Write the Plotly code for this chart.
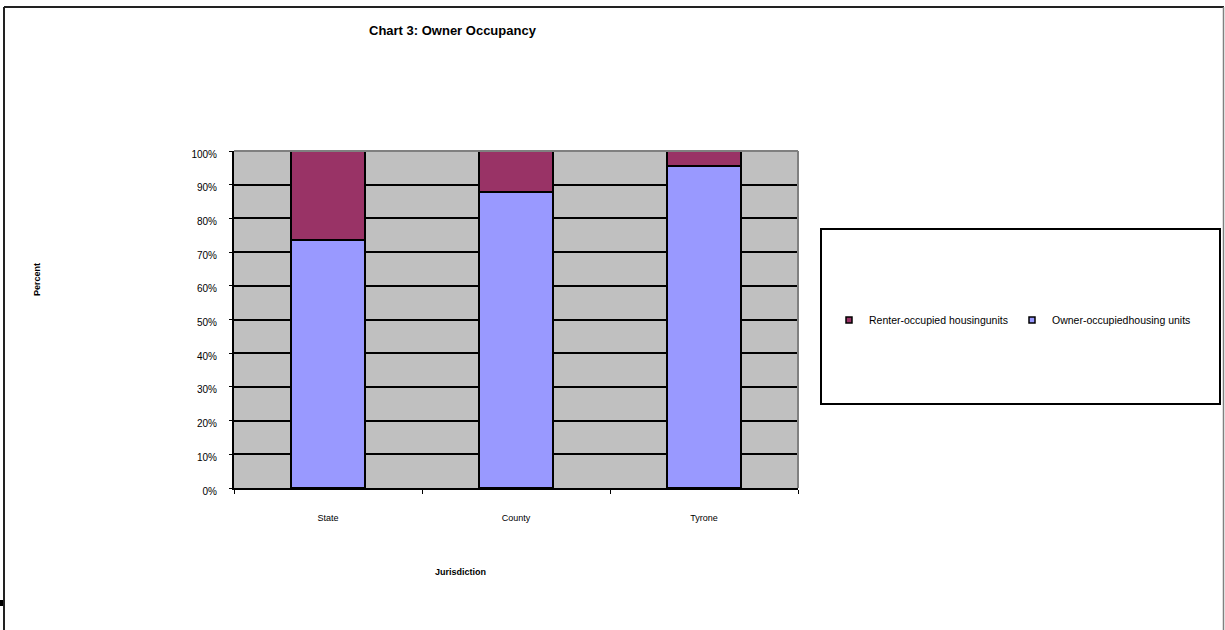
import plotly.graph_objects as go

# Housing tenure share by jurisdiction (percent of occupied units)
jurisdictions = ["State", "County", "Tyrone"]
owner_pct = [73.6, 87.8, 95.5]
renter_pct = [26.4, 12.2, 4.5]
y_ticks = [0, 10, 20, 30, 40, 50, 60, 70, 80, 90, 100]
y_tick_labels = ["0%", "10%", "20%", "30%", "40%", "50%", "60%", "70%", "80%", "90%", "100%"]

RENTER_COLOR = "#993366"
OWNER_COLOR = "#9999FF"
FONT = "Liberation Sans, Arial, sans-serif"
W, H = 1225, 630
L, R, T, B = 234, 798, 151, 488  # plot area in pixels


def px_x(px):
    return (px - L) / (R - L)


def px_y(py):
    return (B - py) / (B - T)


fig = go.Figure()
fig.add_trace(go.Bar(
    x=jurisdictions, y=owner_pct, name="Owner-occupiedhousing units",
    marker=dict(color=OWNER_COLOR, line=dict(color="black", width=1.5)),
    showlegend=False,
))
fig.add_trace(go.Bar(
    x=jurisdictions, y=renter_pct, name="Renter-occupied housingunits",
    marker=dict(color=RENTER_COLOR, line=dict(color="black", width=1.5)),
    showlegend=False,
))

# Small square legend keys
fig.add_trace(go.Scatter(
    x=[None], y=[None], mode="markers", name="Owner-occupiedhousing units",
    marker=dict(symbol="square", size=6, color=OWNER_COLOR,
                line=dict(color="black", width=1.5)),
))
fig.add_trace(go.Scatter(
    x=[None], y=[None], mode="markers", name="Renter-occupied housingunits",
    marker=dict(symbol="square", size=6, color=RENTER_COLOR,
                line=dict(color="black", width=1.5)),
))

shapes = [
    # chart frame
    dict(type="line", xref="paper", yref="paper", x0=px_x(4), x1=px_x(4),
         y0=px_y(7), y1=px_y(640), line=dict(color="#222222", width=2)),
    dict(type="line", xref="paper", yref="paper", x0=px_x(4), x1=px_x(1224),
         y0=px_y(7), y1=px_y(7), line=dict(color="#222222", width=2)),
    dict(type="line", xref="paper", yref="paper", x0=px_x(1223.5), x1=px_x(1223.5),
         y0=px_y(7), y1=px_y(640), line=dict(color="#808080", width=1.5)),
    dict(type="rect", xref="paper", yref="paper", x0=px_x(0), x1=px_x(3),
         y0=px_y(600), y1=px_y(606), line=dict(width=0), fillcolor="black"),
    # legend box
    dict(type="rect", xref="paper", yref="paper", x0=px_x(821), x1=px_x(1220),
         y0=px_y(404), y1=px_y(229), line=dict(color="black", width=2)),
    # plot-area border (top and right)
    dict(type="line", xref="paper", yref="paper", x0=0, x1=1, y0=1, y1=1,
         line=dict(color="#808080", width=2)),
    dict(type="line", xref="paper", yref="paper", x0=1, x1=1, y0=0, y1=1,
         line=dict(color="#808080", width=2)),
]

annotations = [
    dict(text="<b>Chart 3: Owner Occupancy</b>", xref="paper", yref="paper",
         x=px_x(453), y=px_y(31), xanchor="center", yanchor="middle",
         showarrow=False, font=dict(family=FONT, size=13, color="black")),
    dict(text="<b>Percent</b>", xref="paper", yref="paper",
         x=px_x(37), y=px_y(280), xanchor="center", yanchor="middle",
         showarrow=False, textangle=-90,
         font=dict(family=FONT, size=9, color="black")),
    dict(text="<b>Jurisdiction</b>", xref="paper", yref="paper",
         x=px_x(460), y=px_y(572), xanchor="center", yanchor="middle",
         showarrow=False, font=dict(family=FONT, size=9, color="black")),
]

fig.update_layout(
    width=W, height=H,
    margin=dict(l=L, r=W - R, t=T, b=H - B, pad=0),
    paper_bgcolor="white",
    plot_bgcolor="#C0C0C0",
    barmode="stack",
    bargap=0.606,
    font=dict(family=FONT, size=9, color="black"),
    showlegend=True,
    legend=dict(
        orientation="h", traceorder="reversed",
        x=px_x(829), y=px_y(320), xanchor="left", yanchor="middle",
        bgcolor="rgba(0,0,0,0)", borderwidth=0,
        font=dict(family=FONT, size=10.5, color="black"),
        entrywidth=138,
    ),
    shapes=shapes,
    annotations=annotations,
)

fig.update_xaxes(
    type="category", showgrid=False, zeroline=False,
    showline=True, linecolor="black", linewidth=2,
    ticks="outside", ticklen=4, tickwidth=1, tickcolor="black",
    tickson="boundaries", ticklabelstandoff=20,
    tickfont=dict(family=FONT, size=9),
)
fig.update_yaxes(
    range=[0, 100], tickvals=y_ticks, ticktext=y_tick_labels,
    showgrid=True, gridcolor="black", gridwidth=1.5, zeroline=False,
    showline=True, linecolor="black", linewidth=2,
    ticks="outside", ticklen=3, tickwidth=1, tickcolor="black",
    ticklabelstandoff=10, ticklabelshift=3,
    tickfont=dict(family=FONT, size=10),
)

fig.write_html("out.html")
